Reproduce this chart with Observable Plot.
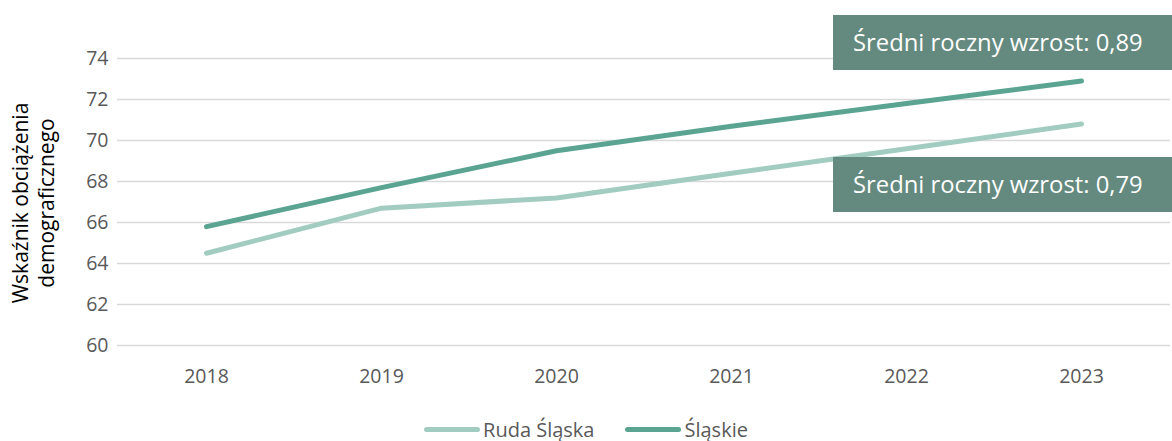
<!DOCTYPE html>
<html>
<head>
<meta charset="utf-8">
<script src="https://cdn.jsdelivr.net/npm/d3@7"></script>
<script src="https://cdn.jsdelivr.net/npm/@observablehq/plot@0.6"></script>
<style>
  html, body { margin: 0; padding: 0; background: #fff; }
  #wrap { position: relative; width: 1172px; height: 441px; font-family: "Open Sans", sans-serif; }
  .note { position: absolute; left: 833px; width: 339px; height: 55px; background: #64897e; color: #fff;
          font-size: 23.8px; line-height: 55px; box-sizing: border-box; padding-left: 20px; white-space: nowrap; overflow: hidden; }
  #ylabel { position: absolute; left: 33px; top: 203px; width: 0; height: 0; }
  #ylabel div { position: absolute; transform: translate(-50%, -50%) rotate(-90deg); white-space: nowrap;
                text-align: center; font-size: 21px; line-height: 26px; color: #000; }
  #legend { position: absolute; top: 416px; left: 0; width: 1172px; display: flex; justify-content: center;
            align-items: center; gap: 31px; font-size: 20px; color: #595959; }
  .item { display: flex; align-items: center; }
  .sw { width: 56px; height: 5px; border-radius: 3px; margin-right: 3px; }
</style>
</head>
<body>
<div id="wrap"></div>
<script>
const years = ["2018", "2019", "2020", "2021", "2022", "2023"];
const rudaSlaska = [64.5, 66.7, 67.2, 68.4, 69.6, 70.8];
const slaskie = [65.8, 67.7, 69.5, 70.7, 71.8, 72.9];
const seriesNames = ["Ruda Śląska", "Śląskie"];
const seriesColors = ["#a3ccc1", "#5aa491"];
const yTicks = [60, 62, 64, 66, 68, 70, 72, 74];
const notes = ["Średni roczny wzrost: 0,89", "Średni roczny wzrost: 0,79"];
const yLabelLines = ["Wskaźnik obciążenia", "demograficznego"];

const data = [];
years.forEach((y, i) => {
  data.push({year: y, value: rudaSlaska[i], series: seriesNames[0]});
  data.push({year: y, value: slaskie[i], series: seriesNames[1]});
});

const chart = Plot.plot({
  width: 1172,
  height: 400,
  marginLeft: 117,
  marginRight: 2,
  marginTop: 58,
  marginBottom: 55,
  style: {fontFamily: "'Open Sans', sans-serif", fontSize: "19.5px", color: "#595959", background: "#fff"},
  x: {type: "point", domain: years, padding: 0.5, label: null},
  y: {domain: [60, 74], ticks: yTicks, label: null},
  color: {domain: seriesNames, range: seriesColors},
  marks: [
    Plot.ruleY(yTicks, {stroke: "#d9d9d9", strokeWidth: 1.5}),
    Plot.axisX({tickSize: 0, tickPadding: 24, label: null, fill: "#595959", fontSize: 19.5}),
    Plot.axisY({ticks: yTicks, tickSize: 0, tickPadding: 9, label: null, fill: "#595959", fontSize: 19.5}),
    Plot.lineY(data, {x: "year", y: "value", z: "series", stroke: "series", strokeWidth: 5, strokeLinecap: "round", strokeLinejoin: "round"})
  ]
});

const wrap = document.getElementById("wrap");
wrap.appendChild(chart);

const yl = document.createElement("div");
yl.id = "ylabel";
const yli = document.createElement("div");
yli.innerHTML = yLabelLines.join("<br>");
yl.appendChild(yli);
wrap.appendChild(yl);

const tops = [15, 157];
notes.forEach((t, i) => {
  const d = document.createElement("div");
  d.className = "note";
  d.style.top = tops[i] + "px";
  d.textContent = t;
  wrap.appendChild(d);
});

const leg = document.createElement("div");
leg.id = "legend";
seriesNames.forEach((n, i) => {
  const it = document.createElement("div");
  it.className = "item";
  const sw = document.createElement("div");
  sw.className = "sw";
  sw.style.background = seriesColors[i];
  const tx = document.createElement("span");
  tx.textContent = n;
  it.appendChild(sw); it.appendChild(tx);
  leg.appendChild(it);
});
wrap.appendChild(leg);
</script>
</body>
</html>
